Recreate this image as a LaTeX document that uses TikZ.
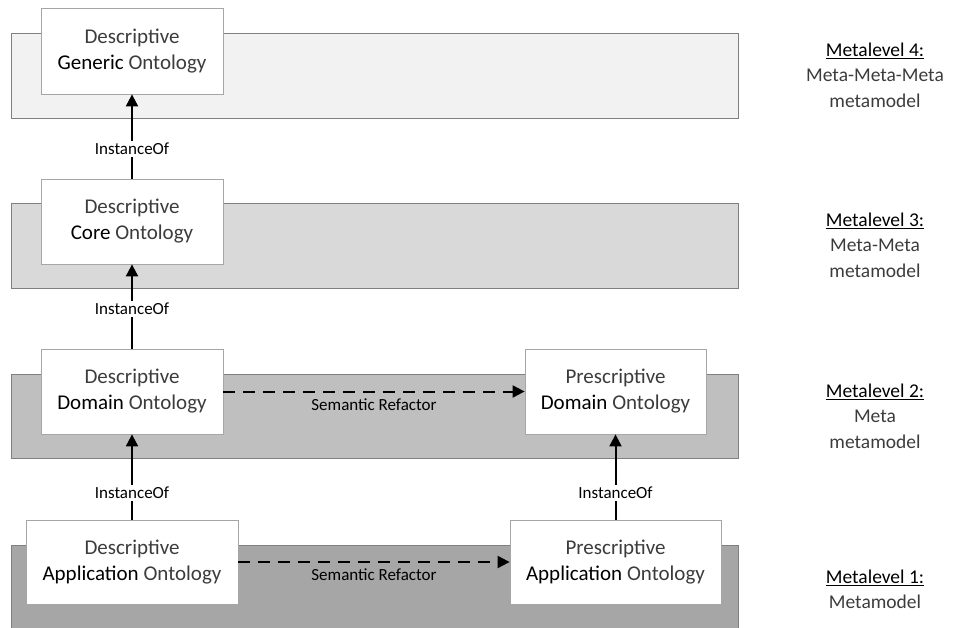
\documentclass[tikz,border=0pt]{standalone}
\usepackage{fontspec}
\setmainfont{Carlito}
\usetikzlibrary{arrows.meta}
\definecolor{bandA}{HTML}{F2F2F2}
\definecolor{bandB}{HTML}{D9D9D9}
\definecolor{bandC}{HTML}{BFBFBF}
\definecolor{bandD}{HTML}{A6A6A6}
\definecolor{bandline}{HTML}{7F7F7F}
\definecolor{boxline}{HTML}{A6A6A6}
\definecolor{lighttext}{HTML}{3C3C3C}
\newcommand{\lt}[1]{{\color{lighttext}#1}}
\tikzset{
  band/.style={draw=bandline, line width=0.8pt},
  onto/.style={draw=boxline, fill=white, line width=0.8pt, align=center,
    font=\fontsize{21}{26}\selectfont, inner sep=0pt},
  inst/.style={line width=2pt, -{Triangle[length=12pt,width=12pt]}},
  refac/.style={line width=2pt, dash pattern=on 12pt off 8pt,
    -{Triangle[length=12pt,width=12pt]}},
  lbl/.style={font=\fontsize{17}{19}\selectfont, fill=white, inner sep=2pt},
  reflbl/.style={font=\fontsize{17}{19}\selectfont, inner sep=0pt},
  lvl/.style={align=center, font=\fontsize{19.5}{25.5}\selectfont}
}
\begin{document}
\begin{tikzpicture}[x=1pt,y=-1pt]
\useasboundingbox (0,0) rectangle (955,628);

% metalevel bands
\path[band, fill=bandA] (11,33) rectangle (738,118);
\path[band, fill=bandB] (11,203) rectangle (738,288);
\path[band, fill=bandC] (11,374) rectangle (738,458);
\path[band, fill=bandD] (11,545) rectangle (738,640);

% ontologies
\node[onto, minimum width=182pt, minimum height=86pt] (gen) at (132,51)
  {\lt{Descriptive}\\Generic \lt{Ontology}};
\node[onto, minimum width=182pt, minimum height=85pt] (core) at (132,221.5)
  {\lt{Descriptive}\\Core \lt{Ontology}};
\node[onto, minimum width=182pt, minimum height=85pt] (ddom) at (132,391.5)
  {\lt{Descriptive}\\Domain \lt{Ontology}};
\node[onto, minimum width=181pt, minimum height=85pt] (pdom) at (615.5,391.5)
  {\lt{Prescriptive}\\Domain \lt{Ontology}};
\node[onto, minimum width=212pt, minimum height=84pt] (dapp) at (132,562)
  {\lt{Descriptive}\\Application \lt{Ontology}};
\node[onto, minimum width=211pt, minimum height=84pt] (papp) at (615.5,562)
  {\lt{Prescriptive}\\Application \lt{Ontology}};

% instance-of relations
\draw[inst] (core.north) -- node[lbl, pos=0.35] {InstanceOf} (gen.south);
\draw[inst] (ddom.north) -- node[lbl, pos=0.47] {InstanceOf} (core.south);
\draw[inst] (dapp.north) -- node[lbl, pos=0.31] {InstanceOf} (ddom.south);
\draw[inst] (papp.north -| pdom.south) -- node[lbl, pos=0.31] {InstanceOf} (pdom.south);

% semantic refactoring
\draw[refac] (ddom.east) -- node[reflbl, below=6pt] {Semantic Refactor} (pdom.west);
\draw[refac] (dapp.east) -- node[reflbl, below=6pt] {Semantic Refactor} (papp.west);

% level captions
\node[lvl] (m4) at (875,75) {\underline{Metalevel 4:}\\\lt{Meta-Meta-Meta}\\\lt{metamodel}};
\node[lvl] (m3) at (875,245) {\underline{Metalevel 3:}\\\lt{Meta-Meta}\\\lt{metamodel}};
\node[lvl] (m2) at (875,416) {\underline{Metalevel 2:}\\\lt{Meta}\\\lt{metamodel}};
\node[lvl] (m1) at (875,589.5) {\underline{Metalevel 1:}\\\lt{Metamodel}};
\end{tikzpicture}
\end{document}
